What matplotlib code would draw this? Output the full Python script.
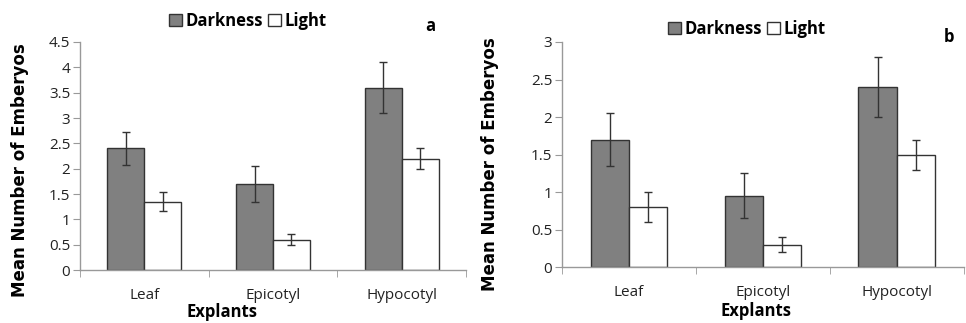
import matplotlib
matplotlib.use("Agg")
import matplotlib.pyplot as plt
import numpy as np
from matplotlib.patches import Patch

explants = ['Leaf', 'Epicotyl', 'Hypocotyl']

# panel a
dark_a = [2.4, 1.7, 3.6]
dark_a_err = [0.33, 0.35, 0.5]
light_a = [1.35, 0.6, 2.2]
light_a_err = [0.18, 0.11, 0.2]

# panel b
dark_b = [1.7, 0.95, 2.4]
dark_b_err = [0.35, 0.3, 0.4]
light_b = [0.8, 0.3, 1.5]
light_b_err = [0.2, 0.1, 0.2]

tick_font = 'Open Sans'


def px(x, y):
    # pixel position -> figure fraction
    return x / 966, 1 - y / 323


def draw_panel(fig, ax, dark, dark_err, light, light_err, ymax, tag, tag_xy,
               leg_xy, ylab_xy, xlab_xy):
    x = np.arange(len(explants))
    w = 0.287
    ax.bar(x - w / 2, dark, w, color='#808080', edgecolor='#333333', linewidth=1.0)
    ax.bar(x + w / 2, light, w, color='white', edgecolor='#333333', linewidth=1.0)
    ax.errorbar(x - w / 2, dark, yerr=dark_err, fmt='none', ecolor='#333333',
                elinewidth=1.0, capsize=3, capthick=1.0)
    ax.errorbar(x + w / 2, light, yerr=light_err, fmt='none', ecolor='#333333',
                elinewidth=1.0, capsize=3, capthick=1.0)

    ticks = np.arange(0, ymax + 0.001, 0.5)
    ax.set_xlim(-0.5, 2.5)
    ax.set_ylim(0, ymax)
    ax.set_yticks(ticks)
    ax.set_yticklabels(['%g' % v for v in ticks], fontfamily=tick_font,
                       fontsize=11, color='#222222')
    ax.set_xticks(x)
    ax.set_xticklabels(explants, fontfamily=tick_font, fontsize=11, color='#222222')
    ax.set_xticks([-0.5, 0.5, 1.5, 2.5], minor=True)
    ax.tick_params(axis='x', which='major', length=0, pad=13)
    ax.tick_params(axis='x', which='minor', length=5, color='#999999')
    ax.tick_params(axis='y', length=5, color='#999999', pad=2)

    for s in ['top', 'right']:
        ax.spines[s].set_visible(False)
    for s in ['left', 'bottom']:
        ax.spines[s].set_color('#999999')
        ax.spines[s].set_linewidth(1.0)

    fig.text(*px(*ylab_xy), 'Mean Number of Emberyos', family='DejaVu Sans',
             fontweight='bold', fontsize=12, rotation=90, ha='center', va='center')
    fig.text(*px(*xlab_xy), 'Explants', family=tick_font, fontweight='bold',
             fontsize=12, ha='center', va='center')

    handles = [Patch(facecolor='#808080', edgecolor='#333333', label='Darkness'),
               Patch(facecolor='white', edgecolor='#333333', label='Light')]
    fig.legend(handles=handles, loc='center', bbox_to_anchor=px(*leg_xy), ncol=2,
               frameon=False, handlelength=0.75, handleheight=0.75,
               handletextpad=0.25, columnspacing=0.3,
               prop={'family': tick_font, 'weight': 'bold', 'size': 12})
    fig.text(*px(*tag_xy), tag, family=tick_font, fontweight='bold',
             fontsize=12, ha='center', va='center')


fig = plt.figure(figsize=(9.66, 3.23), dpi=100)
ax1 = fig.add_axes([0.0828, 0.164, 0.3996, 0.706])
ax2 = fig.add_axes([0.5818, 0.173, 0.416, 0.697])

draw_panel(fig, ax1, dark_a, dark_a_err, light_a, light_a_err, 4.5, 'a',
           (430, 26), (248, 21), (20, 170), (222, 312))
draw_panel(fig, ax2, dark_b, dark_b_err, light_b, light_b_err, 3.0, 'b',
           (949, 37), (747, 29), (490, 164), (756, 311))

fig.savefig('out.png', dpi=100)
